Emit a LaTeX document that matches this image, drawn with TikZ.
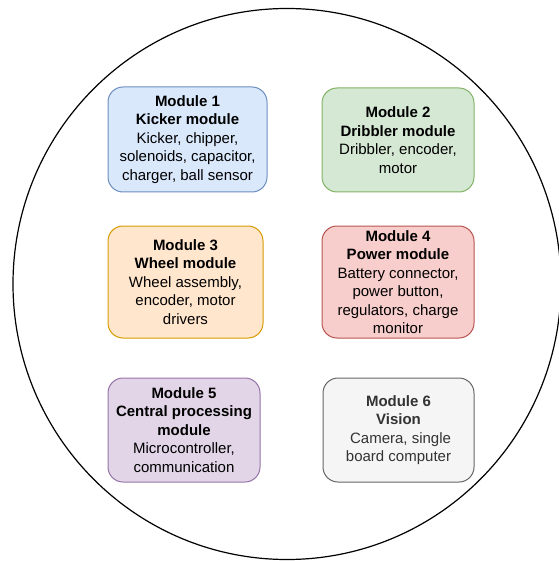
\documentclass[tikz,border=0pt]{standalone}
\usepackage{fontspec}
\usetikzlibrary{shapes.geometric}
\setmainfont{Liberation Sans}
\definecolor{bluefill}{HTML}{DAE8FC}\definecolor{bluedraw}{HTML}{6C8EBF}
\definecolor{greenfill}{HTML}{D5E8D4}\definecolor{greendraw}{HTML}{82B366}
\definecolor{orangefill}{HTML}{FFE6CC}\definecolor{orangedraw}{HTML}{D79B00}
\definecolor{redfill}{HTML}{F8CECC}\definecolor{reddraw}{HTML}{B85450}
\definecolor{purplefill}{HTML}{E1D5E7}\definecolor{purpledraw}{HTML}{9673A6}
\definecolor{grayfill}{HTML}{F5F5F5}\definecolor{graydraw}{HTML}{666666}
\definecolor{graytext}{HTML}{333333}
\begin{document}
\begin{tikzpicture}[x=1pt,y=-1pt,
  modbox/.style={draw, line width=1pt, rounded corners=15pt, align=center,
    inner sep=0pt, font=\fontsize{15}{18.5}\selectfont},
  outer/.style={draw=black, line width=1.2pt}]
\useasboundingbox (0,0) rectangle (558,561);
\node[outer, ellipse, minimum width=548pt, minimum height=551pt, inner sep=0pt] (ring) at (287,284) {};
\node[modbox, fill=bluefill, draw=bluedraw, minimum width=159pt, minimum height=105pt] (m1) at (187.5,139.5)
  {\textbf{Module 1}\\\textbf{Kicker module}\\Kicker, chipper,\\solenoids, capacitor,\\charger, ball sensor};
\node[modbox, fill=greenfill, draw=greendraw, minimum width=152pt, minimum height=104pt] (m2) at (398,140)
  {\textbf{Module 2}\\\textbf{Dribbler module}\\Dribbler, encoder,\\motor};
\node[modbox, fill=orangefill, draw=orangedraw, minimum width=155pt, minimum height=112pt] (m3) at (185.5,282)
  {\textbf{Module 3}\\\textbf{Wheel module}\\Wheel assembly,\\encoder, motor\\drivers};
\node[modbox, fill=redfill, draw=reddraw, minimum width=152pt, minimum height=112pt] (m4) at (398,282)
  {\textbf{Module 4}\\\textbf{Power module}\\Battery connector,\\power button,\\regulators, charge\\monitor};
\node[modbox, fill=purplefill, draw=purpledraw, minimum width=152pt, minimum height=104pt] (m5) at (184,430)
  {\textbf{Module 5}\\\textbf{Central processing}\\\textbf{module}\\Microcontroller,\\communication};
\node[modbox, fill=grayfill, draw=graydraw, text=graytext, minimum width=151pt, minimum height=104pt] (m6) at (398.5,430)
  {\textbf{Module 6}\\\textbf{Vision}\\\ Camera, single\\board computer};
\end{tikzpicture}
\end{document}
